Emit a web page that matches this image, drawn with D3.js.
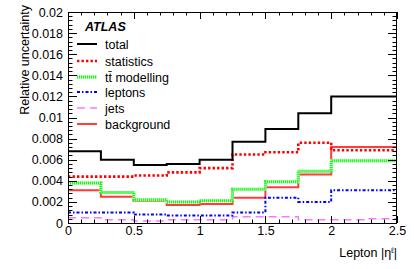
<!DOCTYPE html>
<html><head><meta charset="utf-8">
<script src="https://cdn.jsdelivr.net/npm/d3@7"></script>
<style>
html,body{margin:0;padding:0;background:#fff;}
svg{display:block;font-family:"Liberation Sans",Arial,Helvetica,sans-serif;}
</style></head>
<body>
<script>
// ---- data ----
const binEdges = [0, 0.25, 0.5, 0.75, 1, 1.25, 1.5, 1.75, 2, 2.25, 2.5];
const total      = [0.0068, 0.0060, 0.0055, 0.0056, 0.0060, 0.0077, 0.0089, 0.0104, 0.0120, 0.0120];
const statistics = [0.0044, 0.0044, 0.0045, 0.0048, 0.0052, 0.0065, 0.0067, 0.0076, 0.0069, 0.0069];
const ttbar      = [0.0038, 0.0029, 0.0022, 0.0020, 0.0021, 0.0032, 0.0039, 0.0049, 0.0059, 0.0059];
const leptons    = [0.0010, 0.0010, 0.0008, 0.0007, 0.0007, 0.0010, 0.0024, 0.0020, 0.0031, 0.0031];
const jets       = [0.0005, 0.0003, 0.0002, 0.0003, 0.0003, 0.0006, 0.0006, 0.0003, 0.0003, 0.0004];
const background = [0.0031, 0.0025, 0.0021, 0.0017, 0.0018, 0.0024, 0.0034, 0.0046, 0.0072, 0.0072];
const xTickValues = [0, 0.5, 1, 1.5, 2, 2.5];
const xTickLabels = ["0", "0.5", "1", "1.5", "2", "2.5"];
const yTickValues = [0, 0.002, 0.004, 0.006, 0.008, 0.01, 0.012, 0.014, 0.016, 0.018, 0.02];
const yTickLabels = ["0", "0.002", "0.004", "0.006", "0.008", "0.01", "0.012", "0.014", "0.016", "0.018", "0.02"];
const seriesNames = ["total", "statistics", "tt\u0304 modelling", "leptons", "jets", "background"];

// ---- styles ----
const styles = [
  {color:"#000000", width:2,   dash:null},
  {color:"#ff0000", width:2.6, dash:"2.4,2.1"},
  {color:"#22ee22", width:3,   dash:"1,1", under:"#a8ffa8"},
  {color:"#0000ff", width:2,   dash:"3,2,1.5,2"},
  {color:"#ff77ff", width:1.5, dash:"8,5"},
  {color:"#ff3b3b", width:2,   dash:null}
];
const seriesData = [total, statistics, ttbar, leptons, jets, background];

const W = 414, H = 269;
const L = 68, R = 397, T = 12, B = 223;
const svg = d3.select("body").append("svg").attr("width", W).attr("height", H);

const x = d3.scaleLinear().domain([0, 2.5]).range([L, R]);
const y = d3.scaleLinear().domain([0, 0.02]).range([B, T]);

function strokePath(g, d, st) {
  if (st.under) {
    g.append("path").attr("d", d).attr("fill", "none")
      .attr("stroke", st.under).attr("stroke-width", st.width);
  }
  g.append("path").attr("d", d).attr("fill", "none")
    .attr("stroke", st.color).attr("stroke-width", st.width)
    .attr("stroke-dasharray", st.dash);
}

// histograms
const line = d3.line().x(d => x(d[0])).y(d => y(d[1])).curve(d3.curveStepAfter);
const plot = svg.append("g");
const order = [5, 4, 3, 2, 1, 0];
order.forEach(i => {
  const vals = seriesData[i];
  const pts = vals.map((v, k) => [binEdges[k], v]);
  pts.push([binEdges[binEdges.length - 1], vals[vals.length - 1]]);
  strokePath(plot, line(pts), styles[i]);
});

// ticks (major + minor, mirrored)
const xMinor = d3.range(0, 26).map(k => k / 10).filter(v => v <= 2.5);
const yMinor = d3.range(0, 51).map(k => k * 0.0004);
const tk = svg.append("g").attr("stroke", "#000").attr("stroke-width", 1);
xMinor.forEach(v => {
  const big = xTickValues.some(t => Math.abs(t - v) < 1e-9);
  const len = big ? 7 : 3.5;
  const px = Math.round(x(v)) + 0.5;
  tk.append("line").attr("x1", px).attr("x2", px).attr("y1", B).attr("y2", B - len);
  tk.append("line").attr("x1", px).attr("x2", px).attr("y1", T).attr("y2", T + len);
});
yMinor.forEach(v => {
  const big = yTickValues.some(t => Math.abs(t - v) < 1e-9);
  const len = big ? 9 : 4.5;
  const py = Math.round(y(v)) + 0.5;
  tk.append("line").attr("x1", L).attr("x2", L + len).attr("y1", py).attr("y2", py);
  tk.append("line").attr("x1", R).attr("x2", R - len).attr("y1", py).attr("y2", py);
});

// frame
svg.append("rect").attr("x", L + 0.5).attr("y", T + 0.5).attr("width", R - L - 1).attr("height", B - T)
  .attr("fill", "none").attr("stroke", "#000").attr("stroke-width", 1);

// axes labels
const xAxis = d3.axisBottom(x).tickValues(xTickValues).tickSize(0).tickPadding(3)
  .tickFormat((d, i) => xTickLabels[i]);
const gx = svg.append("g").attr("transform", `translate(0,${B})`).call(xAxis);
gx.select(".domain").remove();
gx.selectAll("text").attr("font-size", "12.5px").attr("fill", "#000");

const yAxis = d3.axisLeft(y).tickValues(yTickValues).tickSize(0).tickPadding(5)
  .tickFormat((d, i) => yTickLabels[i]);
const gy = svg.append("g").attr("transform", `translate(${L},0)`).call(yAxis);
gy.select(".domain").remove();
gy.selectAll("text").attr("font-size", "12.5px").attr("fill", "#000");
gx.attr("font-family", null); gy.attr("font-family", null);

// axis titles
const xt = svg.append("text").attr("x", R).attr("y", 257).attr("text-anchor", "end")
  .attr("font-size", "12.5px");
xt.append("tspan").text("Lepton |\u03b7");
xt.append("tspan").attr("font-size", "8px").attr("dy", -4).text("\u2113");
xt.append("tspan").attr("dy", 4).text("|");

svg.append("text").attr("transform", "translate(29,5) rotate(-90)").attr("text-anchor", "end")
  .attr("font-size", "12.5px").text("Relative uncertainty");

// ATLAS
svg.append("text").attr("x", 85).attr("y", 31).attr("font-size", "12.5px")
  .attr("font-weight", "bold").attr("font-style", "italic").text("ATLAS");

// legend
const legY = [44, 61, 77, 92, 108, 124];
const legG = svg.append("g");
seriesNames.forEach((name, i) => {
  strokePath(legG, `M77,${legY[i]}H97`, styles[i]);
  legG.append("text").attr("x", 105).attr("y", legY[i] + 4.5).attr("font-size", "12.5px").text(name);
});
</script>
</body></html>
